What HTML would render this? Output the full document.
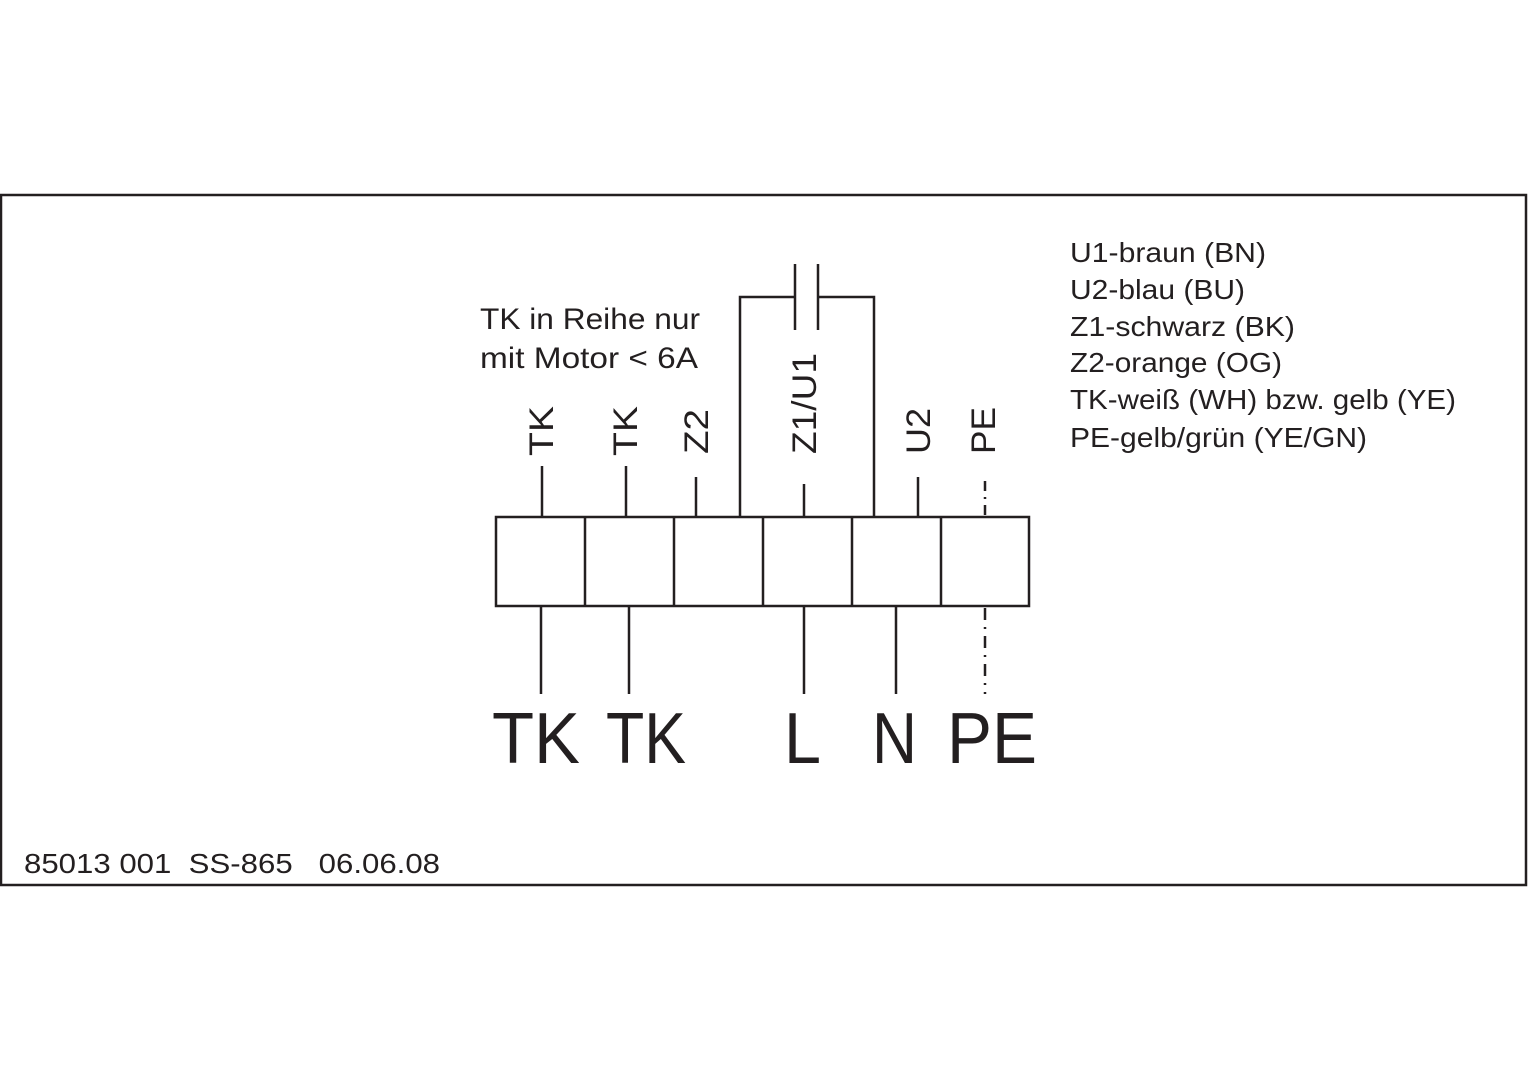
<!DOCTYPE html>
<html><head><style>body{margin:0;background:#fff}svg{display:block}</style></head><body>
<svg width="1528" height="1080" viewBox="0 0 1528 1080" xmlns="http://www.w3.org/2000/svg" font-family="Liberation Sans, sans-serif" fill="#231f20">
<rect x="1" y="195" width="1525" height="690" fill="none" stroke="#231f20" stroke-width="2.5"/>
<g stroke="#231f20" stroke-width="2.5" fill="none">
<rect x="496" y="517" width="533" height="89"/>
<line x1="585" y1="517" x2="585" y2="606"/>
<line x1="674" y1="517" x2="674" y2="606"/>
<line x1="763" y1="517" x2="763" y2="606"/>
<line x1="852" y1="517" x2="852" y2="606"/>
<line x1="941" y1="517" x2="941" y2="606"/>
<line x1="542" y1="466" x2="542" y2="517"/>
<line x1="626" y1="466" x2="626" y2="517"/>
<line x1="696" y1="477" x2="696" y2="517"/>
<polyline points="740,517 740,297 795,297"/>
<polyline points="818,297 874,297 874,517"/>
<line x1="795" y1="264" x2="795" y2="330"/>
<line x1="818" y1="264" x2="818" y2="330"/>
<line x1="804" y1="484" x2="804" y2="517"/>
<line x1="918" y1="477" x2="918" y2="517"/>
<line x1="985" y1="481" x2="985" y2="517" stroke-dasharray="10,6,2,6"/>
<line x1="541" y1="606" x2="541" y2="694"/>
<line x1="629" y1="606" x2="629" y2="694"/>
<line x1="804" y1="606" x2="804" y2="694"/>
<line x1="896" y1="606" x2="896" y2="694"/>
<line x1="985" y1="608" x2="985" y2="694" stroke-dasharray="12,7,2,7"/>
</g>
<g font-size="34">
<text transform="translate(553,456) rotate(-90)" textLength="50" lengthAdjust="spacingAndGlyphs">TK</text>
<text transform="translate(637,456) rotate(-90)" textLength="50" lengthAdjust="spacingAndGlyphs">TK</text>
<text transform="translate(708,454) rotate(-90)" textLength="45" lengthAdjust="spacingAndGlyphs">Z2</text>
<text transform="translate(816,454) rotate(-90)" textLength="101" lengthAdjust="spacingAndGlyphs">Z1/U1</text>
<text transform="translate(930,454) rotate(-90)" textLength="46" lengthAdjust="spacingAndGlyphs">U2</text>
<text transform="translate(995,454) rotate(-90)" textLength="47" lengthAdjust="spacingAndGlyphs">PE</text>
</g>
<g font-size="30">
<text x="480" y="329" textLength="220" lengthAdjust="spacingAndGlyphs">TK in Reihe nur</text>
<text x="480" y="368" textLength="218" lengthAdjust="spacingAndGlyphs">mit Motor &lt; 6A</text>
</g>
<g font-size="72">
<text x="492" y="763" textLength="88" lengthAdjust="spacingAndGlyphs">TK</text>
<text x="606" y="763" textLength="80" lengthAdjust="spacingAndGlyphs">TK</text>
<text x="784" y="763" textLength="37" lengthAdjust="spacingAndGlyphs">L</text>
<text x="872" y="763" textLength="45" lengthAdjust="spacingAndGlyphs">N</text>
<text x="947" y="763" textLength="90" lengthAdjust="spacingAndGlyphs">PE</text>
</g>
<g font-size="28">
<text x="1070" y="262" textLength="196" lengthAdjust="spacingAndGlyphs">U1-braun (BN)</text>
<text x="1070" y="299" textLength="175" lengthAdjust="spacingAndGlyphs">U2-blau (BU)</text>
<text x="1070" y="336" textLength="225" lengthAdjust="spacingAndGlyphs">Z1-schwarz (BK)</text>
<text x="1070" y="372" textLength="212" lengthAdjust="spacingAndGlyphs">Z2-orange (OG)</text>
<text x="1070" y="409" textLength="386" lengthAdjust="spacingAndGlyphs">TK-weiß (WH) bzw. gelb (YE)</text>
<text x="1070" y="447" textLength="297" lengthAdjust="spacingAndGlyphs">PE-gelb/grün (YE/GN)</text>
<text x="24" y="873" xml:space="preserve" textLength="416" lengthAdjust="spacingAndGlyphs">85013 001  SS-865   06.06.08</text>
</g>
</svg>
</body></html>
